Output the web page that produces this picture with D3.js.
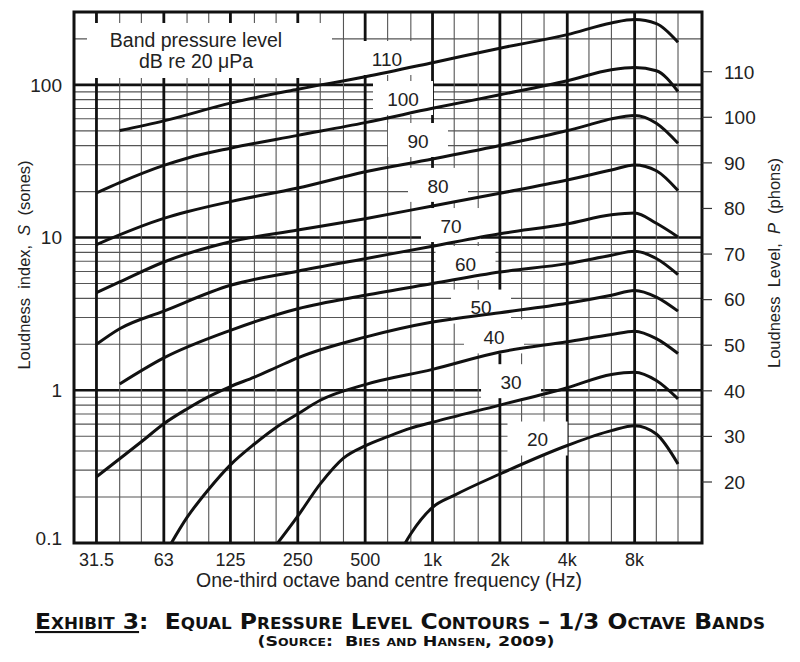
<!DOCTYPE html>
<html>
<head>
<meta charset="utf-8">
<script src="https://cdn.jsdelivr.net/npm/d3@7"></script>
<style>
  body { margin: 0; background: #fff; }
  svg { display: block; }
</style>
</head>
<body>
<div id="chart"></div>
<script>
// one-third octave band centres drawn as grid lines
let thirdOctaves = [31.5, 40, 50, 63, 80, 100, 125, 160, 200, 250, 315, 400, 500, 630, 800,
    1000, 1250, 1600, 2000, 2500, 3150, 4000, 5000, 6300, 8000, 10000, 12500];
let freqTicks = [31.5, 63, 125, 250, 500, 1000, 2000, 4000, 8000];
let freqTickLabels = ['31.5', '63', '125', '250', '500', '1k', '2k', '4k', '8k'];
let sonesTicks = [0.1, 1, 10, 100];
let phonTicks = [20, 30, 40, 50, 60, 70, 80, 90, 100, 110];

// contours, [frequency Hz, loudness index sones]
let curve110 = [[40, 50.2], [63, 58.1], [125, 75.9], [250, 93.6], [500, 113], [1000, 139.7], [2000, 173.9],
    [4000, 213.3], [6300, 254.5], [8000, 267.6], [10000, 251.8], [12500, 189.8]];
let curve100 = [[31.5, 19.6], [40, 22.9], [63, 29.7], [80, 33.1], [125, 38.5], [250, 46.7], [500, 56.6],
    [1000, 70.2], [2000, 86.1], [4000, 106.4], [6300, 125.7], [8000, 130.1], [10000, 123.8], [12500, 90.5]];
let curve90 = [[31.5, 9.0], [63, 13.35], [80, 14.75], [125, 17.2], [250, 21.1], [500, 27.0], [1000, 32.7],
    [2000, 40.1], [4000, 50.2], [5000, 54.7], [6300, 59.9], [8000, 63.0], [10000, 56.1], [12500, 41.5]];
let curve80 = [[31.5, 4.36], [40, 5.12], [63, 6.92], [125, 9.4], [250, 11.2], [500, 13.3],
    [1000, 16.1], [2000, 19.5], [4000, 23.8], [6300, 27.7], [8000, 29.9], [10000, 27.4], [12500, 20.3]];
let curve70 = [[31.5, 2.0], [40, 2.53], [63, 3.30], [125, 4.87], [250, 6.02], [500, 7.27],
    [1000, 8.78], [2000, 10.6], [4000, 12.3], [6300, 14.1], [8000, 14.5], [10000, 12.4], [12500, 10.1]];
let curve60 = [[40, 1.10], [63, 1.63], [125, 2.47], [250, 3.42], [500, 4.19], [1000, 5.0],
    [2000, 5.95], [4000, 6.75], [6300, 7.66], [8000, 8.14], [10000, 7.29], [12500, 5.72]];
let curve50 = [[31.5, 0.271], [40, 0.356], [50, 0.46], [63, 0.604], [80, 0.755], [100, 0.909], [125, 1.058],
    [160, 1.22], [200, 1.41], [250, 1.632], [500, 2.23], [1000, 2.80], [2000, 3.22], [4000, 3.71],
    [6300, 4.19], [8000, 4.51], [10000, 4.08], [12500, 3.30]];
let curve40 = [[63, 0.082], [80, 0.147], [100, 0.225], [125, 0.325], [160, 0.445], [200, 0.571], [250, 0.70],
    [315, 0.86], [500, 1.09], [1000, 1.37], [2000, 1.78], [4000, 2.08], [6300, 2.32],
    [8000, 2.44], [10000, 2.18], [12500, 1.74]];
let curve30 = [[200, 0.097], [250, 0.150], [315, 0.244], [400, 0.36], [500, 0.433], [630, 0.497],
    [800, 0.565], [1000, 0.617], [2000, 0.80], [4000, 1.04], [6300, 1.27], [8000, 1.313],
    [10000, 1.158], [12500, 0.878]];
let curve20 = [[630, 0.06], [800, 0.115], [1000, 0.171], [1250, 0.205], [2000, 0.283], [4000, 0.435],
    [6300, 0.544], [8000, 0.586], [10000, 0.517], [12500, 0.329]];

let levels = [110, 100, 90, 80, 70, 60, 50, 40, 30, 20];
let curves = [curve110, curve100, curve90, curve80, curve70, curve60, curve50, curve40, curve30, curve20];
// where each band level label sits (frequency, sones)
let labelFreq = [626, 738, 861, 1058, 1209, 1404, 1647, 1882, 2243, 2945];
let labelSones = [147.7, 80.8, 42.9, 21.8, 11.9, 6.71, 3.48, 2.22, 1.13, 0.476];

let fontFamily = "'Liberation Sans', Arial, sans-serif";

function draw_chart() {
    let svgWidth = 800, svgHeight = 662;
    let svg = d3.select('#chart').append('svg')
        .attr('width', svgWidth)
        .attr('height', svgHeight);

    let x = d3.scaleLog().domain([25, 16000]).range([74, 702]);
    let y = d3.scaleLog().domain([0.1, 300]).range([543, 12]);
    let yP = d3.scaleLinear().domain([20, 110]).range([482, 71.7]);

    let left = x.range()[0], right = x.range()[1];
    let top = y.range()[1], bottom = y.range()[0];

    // grid
    let grid = svg.append('g');
    let isDecade = v => Math.abs(Math.log10(v) - Math.round(Math.log10(v))) < 1e-6;
    grid.selectAll('line.h')
        .data(y.ticks().filter(v => v > 0.1 && v < 300))
        .enter().append('line')
        .attr('x1', left).attr('x2', right)
        .attr('y1', d => y(d)).attr('y2', d => y(d))
        .attr('stroke', d => isDecade(d) ? '#111' : '#555')
        .attr('stroke-width', d => isDecade(d) ? 2.6 : 1.1);
    grid.selectAll('line.v')
        .data(thirdOctaves)
        .enter().append('line')
        .attr('x1', d => x(d)).attr('x2', d => x(d))
        .attr('y1', top).attr('y2', bottom)
        .attr('stroke', d => freqTicks.includes(d) ? '#111' : '#555')
        .attr('stroke-width', d => freqTicks.includes(d) ? 2.8 : 1.1);

    // white patches behind legend and labels
    svg.append('rect')
        .attr('x', 87).attr('y', 23)
        .attr('width', 245).attr('height', 55)
        .attr('fill', '#fff');
    svg.append('g').selectAll('rect')
        .data(levels)
        .enter().append('rect')
        .attr('x', (d, i) => x(labelFreq[i]) - 30)
        .attr('y', (d, i) => y(labelSones[i]) - 18)
        .attr('width', 60)
        .attr('height', 34)
        .attr('fill', '#fff');

    // frame
    svg.append('rect')
        .attr('x', left).attr('y', top)
        .attr('width', right - left).attr('height', bottom - top)
        .attr('fill', 'none')
        .attr('stroke', '#111')
        .attr('stroke-width', 3);

    // contours
    svg.append('clipPath').attr('id', 'plotClip')
        .append('rect')
        .attr('x', left).attr('y', top)
        .attr('width', right - left).attr('height', bottom - top);
    let line = d3.line()
        .x(d => x(d[0]))
        .y(d => y(d[1]))
        .curve(d3.curveMonotoneX);
    svg.append('g')
        .attr('clip-path', 'url(#plotClip)')
        .selectAll('path')
        .data(curves)
        .enter().append('path')
        .attr('d', d => line(d))
        .attr('fill', 'none')
        .attr('stroke', '#111')
        .attr('stroke-width', 3)
        .attr('stroke-linejoin', 'round');

    // band level labels
    svg.append('g').selectAll('text')
        .data(levels)
        .enter().append('text')
        .attr('x', (d, i) => x(labelFreq[i]))
        .attr('y', (d, i) => y(labelSones[i]))
        .attr('dy', '0.36em')
        .attr('text-anchor', 'middle')
        .attr('font-family', fontFamily)
        .attr('font-size', '19px')
        .attr('fill', '#222')
        .text(d => d);

    // legend
    let legend = svg.append('g')
        .attr('font-family', fontFamily)
        .attr('font-size', '19.5px')
        .attr('fill', '#222')
        .attr('text-anchor', 'middle');
    legend.append('text').attr('x', 196).attr('y', 47).text('Band pressure level');
    legend.append('text').attr('x', 196).attr('y', 68).text('dB re 20 \u03bcPa');

    // left axis (sones)
    svg.append('g').selectAll('text')
        .data(sonesTicks)
        .enter().append('text')
        .attr('x', 62)
        .attr('y', d => y(d) - (d === 0.1 ? 5 : 0))
        .attr('dy', '0.36em')
        .attr('text-anchor', 'end')
        .attr('font-family', fontFamily)
        .attr('font-size', '19px')
        .attr('fill', '#222')
        .text(d => d);

    // right axis (phons)
    let rightAxis = svg.append('g');
    rightAxis.selectAll('line')
        .data(phonTicks)
        .enter().append('line')
        .attr('x1', right).attr('x2', right + 10)
        .attr('y1', d => yP(d)).attr('y2', d => yP(d))
        .attr('stroke', '#333').attr('stroke-width', 1.2);
    rightAxis.selectAll('text')
        .data(phonTicks)
        .enter().append('text')
        .attr('x', right + 22)
        .attr('y', d => yP(d))
        .attr('dy', '0.36em')
        .attr('font-family', fontFamily)
        .attr('font-size', '19px')
        .attr('fill', '#222')
        .text(d => d);

    // bottom axis
    svg.append('g').selectAll('text')
        .data(freqTicks)
        .enter().append('text')
        .attr('x', d => x(d))
        .attr('y', 566)
        .attr('text-anchor', 'middle')
        .attr('font-family', fontFamily)
        .attr('font-size', '18px')
        .attr('fill', '#222')
        .text((d, i) => freqTickLabels[i]);

    svg.append('text')
        .attr('x', 389).attr('y', 587)
        .attr('text-anchor', 'middle')
        .attr('font-family', fontFamily)
        .attr('font-size', '19.5px')
        .attr('fill', '#222')
        .text('One-third octave band centre frequency (Hz)');

    // axis titles
    let yTitle = svg.append('text')
        .attr('transform', 'translate(30,265) rotate(-90)')
        .attr('text-anchor', 'middle')
        .attr('font-family', fontFamily)
        .attr('font-size', '16.5px')
        .attr('fill', '#222')
        .attr('xml:space', 'preserve');
    yTitle.append('tspan').text('Loudness  index,  ');
    yTitle.append('tspan').attr('font-style', 'italic').text('S');
    yTitle.append('tspan').text('  (sones)');

    let pTitle = svg.append('text')
        .attr('transform', 'translate(780,263) rotate(-90)')
        .attr('text-anchor', 'middle')
        .attr('font-family', fontFamily)
        .attr('font-size', '16.5px')
        .attr('fill', '#222')
        .attr('xml:space', 'preserve');
    pTitle.append('tspan').text('Loudness  Level,  ');
    pTitle.append('tspan').attr('font-style', 'italic').text('P');
    pTitle.append('tspan').text('  (phons)');

    // caption
    let cap = svg.append('text')
        .attr('x', 400).attr('y', 629)
        .attr('text-anchor', 'middle')
        .attr('font-family', "'DejaVu Sans', sans-serif")
        .attr('font-size', '21px')
        .attr('font-weight', 'bold')
        .attr('font-variant', 'small-caps')
        .attr('fill', '#111')
        .attr('textLength', 730)
        .attr('lengthAdjust', 'spacingAndGlyphs')
        .attr('xml:space', 'preserve');
    cap.append('tspan').attr('text-decoration', 'underline').text('Exhibit 3');
    cap.append('tspan').text(':  Equal Pressure Level Contours \u2013 1/3 Octave Bands');

    svg.append('text')
        .attr('x', 406).attr('y', 646)
        .attr('text-anchor', 'middle')
        .attr('font-family', "'DejaVu Sans', sans-serif")
        .attr('font-size', '14px')
        .attr('font-weight', 'bold')
        .attr('font-variant', 'small-caps')
        .attr('fill', '#111')
        .attr('textLength', 297)
        .attr('lengthAdjust', 'spacingAndGlyphs')
        .attr('xml:space', 'preserve')
        .text('(Source:  Bies and Hansen, 2009)');
}

draw_chart();
</script>
</body>
</html>
